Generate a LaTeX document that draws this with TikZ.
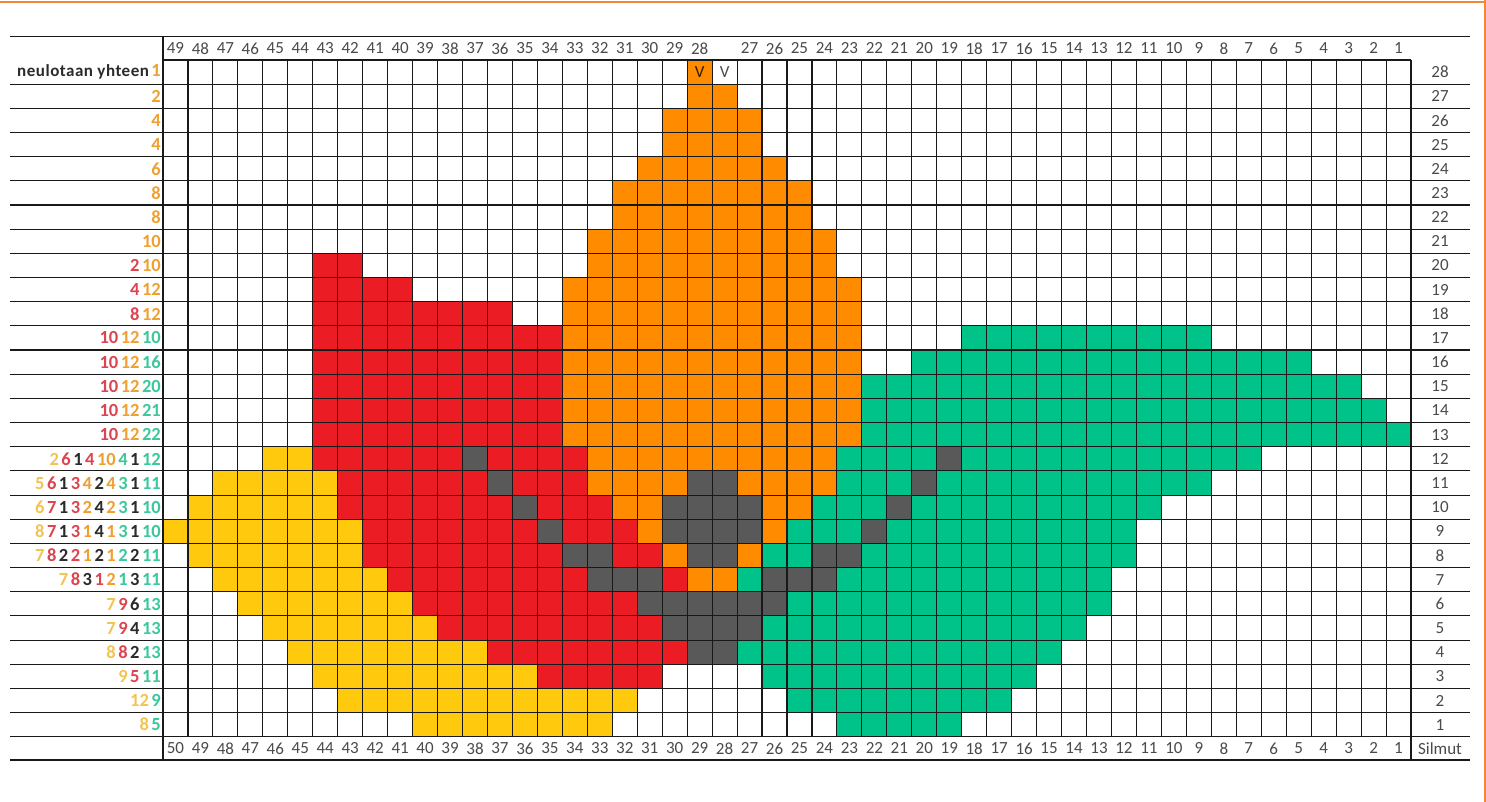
\documentclass[tikz,border=0pt]{standalone}
\usepackage{fontspec}
\setmainfont{Carlito}
\definecolor{cO}{HTML}{FF8C00}
\definecolor{cR}{HTML}{EC1C24}
\definecolor{cY}{HTML}{FFC90E}
\definecolor{cG}{HTML}{00C389}
\definecolor{cD}{HTML}{595959}
\definecolor{tY}{HTML}{F2C452}
\definecolor{tO}{HTML}{F0A030}
\definecolor{tR}{HTML}{DE4450}
\definecolor{tD}{HTML}{2B2B2B}
\definecolor{tG}{HTML}{3CC79C}
\definecolor{hdr}{HTML}{4A4A4A}
\definecolor{edgeline}{HTML}{F0883A}
\newcommand\kY[1]{\textcolor{tY}{#1}}
\newcommand\kO[1]{\textcolor{tO}{#1}}
\newcommand\kR[1]{\textcolor{tR}{#1}}
\newcommand\kD[1]{\textcolor{tD}{#1}}
\newcommand\kG[1]{\textcolor{tG}{#1}}
\newcommand\kS{\hspace{2.5pt}}
\def\gx{163}
\def\gy{60}
\def\W{24.96}
\def\H{24.17}
\begin{document}
\begin{tikzpicture}[x=1pt,y=-1pt,
  gridline/.style={line width=1.1pt, draw=black!90},
  hnum/.style={font=\fontsize{17}{17}\selectfont, text=hdr, inner sep=0pt},
  lab/.style={font=\fontsize{18.5}{18.5}\selectfont\bfseries, inner sep=0pt, anchor=east}]
\useasboundingbox (0,0) rectangle (1486,802);
\fill[white] (0,0) rectangle (1486,802);
% cells
\foreach \r/\a/\b/\col in {28/21/21/cO, 27/21/22/cO, 26/20/23/cO, 25/20/23/cO, 24/19/24/cO, 23/18/25/cO, 22/18/25/cO, 21/17/26/cO,
20/6/7/cR, 20/17/26/cO,
19/6/9/cR, 19/16/27/cO,
18/6/13/cR, 18/16/27/cO,
17/6/15/cR, 17/16/27/cO, 17/32/41/cG,
16/6/15/cR, 16/16/27/cO, 16/30/45/cG,
15/6/15/cR, 15/16/27/cO, 15/28/47/cG,
14/6/15/cR, 14/16/27/cO, 14/28/48/cG,
13/6/15/cR, 13/16/27/cO, 13/28/49/cG,
12/4/5/cY, 12/6/11/cR, 12/12/12/cD, 12/13/16/cR, 12/17/26/cO, 12/27/30/cG, 12/31/31/cD, 12/32/43/cG,
11/2/6/cY, 11/7/12/cR, 11/13/13/cD, 11/14/16/cR, 11/17/20/cO, 11/21/22/cD, 11/23/26/cO, 11/27/29/cG, 11/30/30/cD, 11/31/41/cG,
10/1/6/cY, 10/7/13/cR, 10/14/14/cD, 10/15/17/cR, 10/18/19/cO, 10/20/23/cD, 10/24/25/cO, 10/26/28/cG, 10/29/29/cD, 10/30/39/cG,
9/0/7/cY, 9/8/14/cR, 9/15/15/cD, 9/16/18/cR, 9/19/19/cO, 9/20/23/cD, 9/24/24/cO, 9/25/27/cG, 9/28/28/cD, 9/29/38/cG,
8/1/7/cY, 8/8/15/cR, 8/16/17/cD, 8/18/19/cR, 8/20/20/cO, 8/21/22/cD, 8/23/23/cO, 8/24/25/cG, 8/26/27/cD, 8/28/38/cG,
7/2/8/cY, 7/9/16/cR, 7/17/19/cD, 7/20/20/cR, 7/21/22/cO, 7/23/23/cG, 7/24/26/cD, 7/27/37/cG,
6/3/9/cY, 6/10/18/cR, 6/19/24/cD, 6/25/37/cG,
5/4/10/cY, 5/11/19/cR, 5/20/23/cD, 5/24/36/cG,
4/5/12/cY, 4/13/20/cR, 4/21/22/cD, 4/23/35/cG,
3/6/14/cY, 3/15/19/cR, 3/24/34/cG,
2/7/18/cY, 2/25/33/cG,
1/10/17/cY, 1/27/31/cG}
  \fill[\col] ({\gx+\W*\a},{\gy+\H*(28-\r)}) rectangle ({\gx+\W*(\b+1)},{\gy+\H*(29-\r)});
% grid lines
\foreach \c in {1,...,49}
  \draw[gridline] ({\gx+\W*\c},\gy) -- ({\gx+\W*\c},{\gy+28*\H});
\foreach \k in {1,...,27}
  \draw[gridline] (10,{\gy+\H*\k}) -- (1470,{\gy+\H*\k});
\draw[gridline] (\gx,\gy) -- (1411,\gy);
\draw[gridline] (10,36.7) -- (1470,36.7);
\draw[gridline] (10,{\gy+28*\H}) -- (1470,{\gy+28*\H});
\draw[gridline] (10,760) -- (1470,760);
\draw[gridline] (\gx,36.7) -- (\gx,760);
\draw[gridline] (1411,\gy) -- (1411,760);
% orange frame lines
\draw[edgeline, line width=2.5pt] (0,2) -- (1486,2);
\draw[edgeline, line width=2pt] (1485,0) -- (1485,802);
% header numbers
\foreach \c in {0,...,21} {
  \pgfmathtruncatemacro\n{49-\c}
  \node[hnum] (T\c) at ({\gx+\W*(\c+0.5)},48.4) {\n};
}
\foreach \c in {23,...,49} {
  \pgfmathtruncatemacro\n{50-\c}
  \node[hnum] (T\c) at ({\gx+\W*(\c+0.5)},48.4) {\n};
}
\foreach \c in {0,...,49} {
  \pgfmathtruncatemacro\n{50-\c}
  \node[hnum] (B\c) at ({\gx+\W*(\c+0.5)},748.4) {\n};
}
\foreach \r in {1,...,28}
  \node[hnum] (R\r) at (1440,{\gy+\H*(28.5-\r)}) {\r};
\node[hnum] (silmut) at (1440,748.4) {Silmut};
% V marks
\node[hnum, text=black!80!cO] (v1) at ({\gx+\W*21.5},{\gy+\H*0.5}) {V};
\node[hnum] (v2) at ({\gx+\W*22.5},{\gy+\H*0.5}) {V};
% left labels
\foreach \r/\t in {
28/{\kD{\fontsize{17}{17}\selectfont\addfontfeature{LetterSpace=3}neulotaan yhteen}\kS\kO{1}},
27/{\kO{2}}, 26/{\kO{4}}, 25/{\kO{4}}, 24/{\kO{6}}, 23/{\kO{8}}, 22/{\kO{8}}, 21/{\kO{10}},
20/{\kR{2}\kS\kO{10}},
19/{\kR{4}\kS\kO{12}},
18/{\kR{8}\kS\kO{12}},
17/{\kR{10}\kS\kO{12}\kS\kG{10}},
16/{\kR{10}\kS\kO{12}\kS\kG{16}},
15/{\kR{10}\kS\kO{12}\kS\kG{20}},
14/{\kR{10}\kS\kO{12}\kS\kG{21}},
13/{\kR{10}\kS\kO{12}\kS\kG{22}},
12/{\kY{2}\kS\kR{6}\kS\kD{1}\kS\kR{4}\kS\kO{10}\kS\kG{4}\kS\kD{1}\kS\kG{12}},
11/{\kY{5}\kS\kR{6}\kS\kD{1}\kS\kR{3}\kS\kO{4}\kS\kD{2}\kS\kO{4}\kS\kG{3}\kS\kD{1}\kS\kG{11}},
10/{\kY{6}\kS\kR{7}\kS\kD{1}\kS\kR{3}\kS\kO{2}\kS\kD{4}\kS\kO{2}\kS\kG{3}\kS\kD{1}\kS\kG{10}},
9/{\kY{8}\kS\kR{7}\kS\kD{1}\kS\kR{3}\kS\kO{1}\kS\kD{4}\kS\kO{1}\kS\kG{3}\kS\kD{1}\kS\kG{10}},
8/{\kY{7}\kS\kR{8}\kS\kD{2}\kS\kR{2}\kS\kO{1}\kS\kD{2}\kS\kO{1}\kS\kG{2}\kS\kD{2}\kS\kG{11}},
7/{\kY{7}\kS\kR{8}\kS\kD{3}\kS\kR{1}\kS\kO{2}\kS\kG{1}\kS\kD{3}\kS\kG{11}},
6/{\kY{7}\kS\kR{9}\kS\kD{6}\kS\kG{13}},
5/{\kY{7}\kS\kR{9}\kS\kD{4}\kS\kG{13}},
4/{\kY{8}\kS\kR{8}\kS\kD{2}\kS\kG{13}},
3/{\kY{9}\kS\kR{5}\kS\kG{11}},
2/{\kY{12}\kS\kG{9}},
1/{\kY{8}\kS\kG{5}}}
  \node[lab] (L\r) at (161,{\gy+\H*(28.5-\r)}) {\t};
\end{tikzpicture}
\end{document}
